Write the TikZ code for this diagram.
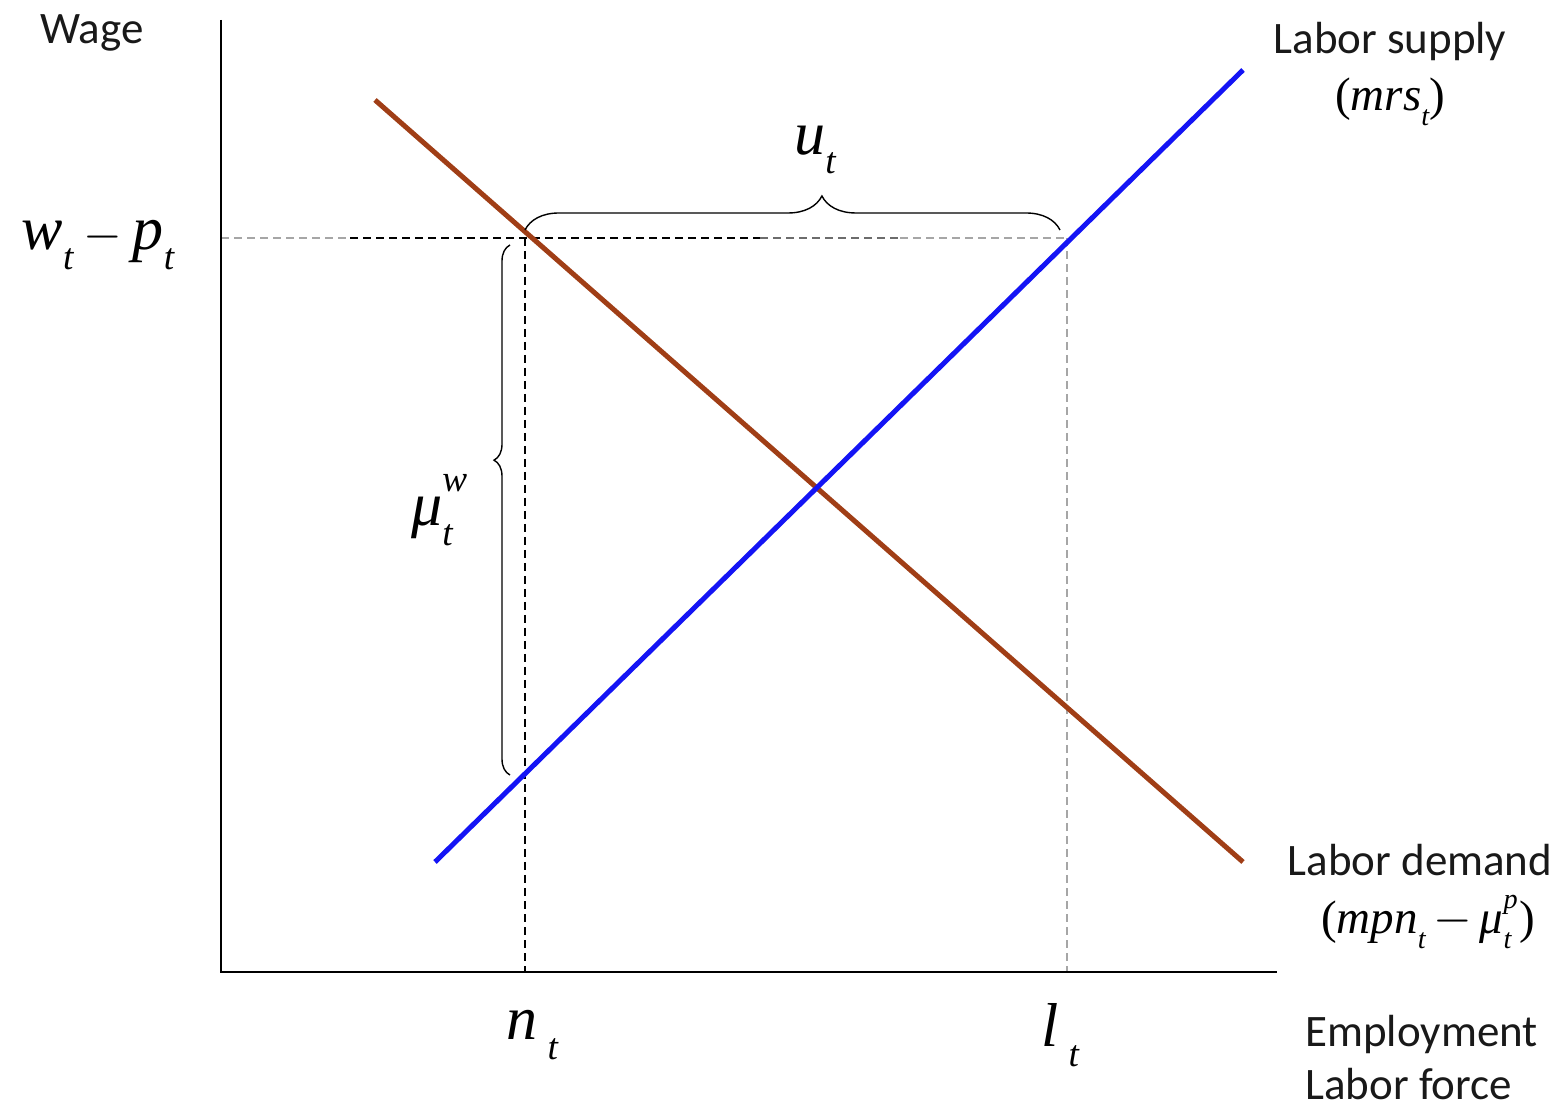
\documentclass[tikz,border=0pt]{standalone}
\usepackage{fontspec}
\usepackage{graphicx}
\setmainfont{Carlito}
\newfontfamily\tnr{Liberation Serif}
\usetikzlibrary{decorations.pathreplacing}
\definecolor{demandc}{RGB}{160,62,22}
\definecolor{supplyc}{RGB}{20,20,245}
\definecolor{txtc}{RGB}{25,25,25}
\newcommand{\mi}[1]{{\tnr\itshape #1}}
\newcommand{\lsb}[1]{\raisebox{-0.32em}{\scalebox{0.6}{\mi{#1}}}}
\newcommand{\lsp}[1]{\raisebox{0.55em}{\scalebox{0.6}{\mi{#1}}}}
\newcommand{\mminus}{\ensuremath{-}}
\begin{document}
\begin{tikzpicture}[x=0.5pt,y=-0.5pt,
  lbl/.style={inner sep=0pt,font=\fontsize{22.5}{26}\selectfont,text=txtc},
  bigm/.style={inner sep=0pt,font=\fontsize{31}{35}\selectfont},
  midm/.style={inner sep=0pt,font=\fontsize{23.5}{27}\selectfont},
  axisline/.style={line width=1.3pt,black},
  dashblack/.style={line width=1pt,black,dash pattern=on 4pt off 2.5pt},
  dashmid/.style={line width=1pt,gray!85!black,dash pattern=on 4pt off 2.5pt},
  dashgray/.style={line width=1pt,gray!70,dash pattern=on 4pt off 2.5pt},
  demand/.style={line width=2.5pt,demandc},
  supply/.style={line width=2.5pt,supplyc},
  bracest/.style={line width=0.7pt,black,decorate}]
\path[use as bounding box] (0,0) rectangle (1558,1111);
% coordinates
\coordinate (ytop) at (221,20);
\coordinate (o) at (221,972);
\coordinate (xend) at (1277,972);
\coordinate (d1) at (375,100);
\coordinate (d2) at (1243,862);
\coordinate (s1) at (435,862);
\coordinate (s2) at (1243,70);
\coordinate (wy) at (221,238);
\coordinate (wg1) at (350,238);
\coordinate (wg2) at (760,238);
\coordinate (wg3) at (900,238);
\coordinate (A) at (525,238);
\coordinate (B) at (1067,238);
\coordinate (nA) at (525,972);
\coordinate (lB) at (1067,972);
\coordinate (bt1) at (525,230);
\coordinate (bt2) at (1060,230);
\coordinate (bl1) at (510,775);
\coordinate (bl2) at (510,245);
% dashed guides
\draw[dashgray] (wy) -- (wg1);
\draw[dashblack] (wg1) -- (wg2);
\draw[dashmid] (wg2) -- (wg3);
\draw[dashgray] (wg3) -- (B);
\draw[dashblack] (A) -- (nA);
\draw[dashgray] (B) -- (lB);
% axes
\draw[axisline] (ytop) -- (o) -- (xend);
% curves
\draw[demand] (d1) -- (d2);
\draw[supply] (s1) -- (s2);
% braces
\draw[bracest,decoration={brace,amplitude=17pt,aspect=0.555}] (bt1) -- (bt2);
\draw[bracest,decoration={brace,amplitude=8pt,aspect=0.594}] (bl1) -- (bl2);
% labels
\node[lbl] (wage) at (92,33) {Wage};
\node[bigm] (wp) at (98,245) {\mi{w}\lsb{t}\,\mminus\,\mi{p}\lsb{t}};
\node[lbl] (ls) at (1390,42) {Labor supply};
\node[midm] (mrs) at (1390,102) {\tnr(\mi{mrs}\lsb{t})};
\node[lbl] (ld) at (1420,860) {Labor demand};
\node[midm] (mpn) at (1428,922) {\tnr(\mi{mpn}\lsb{t}\,\mminus\,\mi{μ}\rlap{\lsp{p}}\lsb{t}\,)};
\node[lbl,anchor=west] (emp) at (1305,1035) {Employment};
\node[lbl,anchor=west] (lf) at (1305,1084) {Labor force};
\node[bigm] (ut) at (815,150) {\mi{u}\lsb{t}};
\node[bigm] (mw) at (432,510) {\mi{μ}\rlap{\lsp{w}}\lsb{t}};
\node[bigm] (nt) at (532,1035) {\mi{n}\,\lsb{t}};
\node[bigm] (lt) at (1060,1035) {\mi{l}\,\lsb{t}};
\end{tikzpicture}
\end{document}
